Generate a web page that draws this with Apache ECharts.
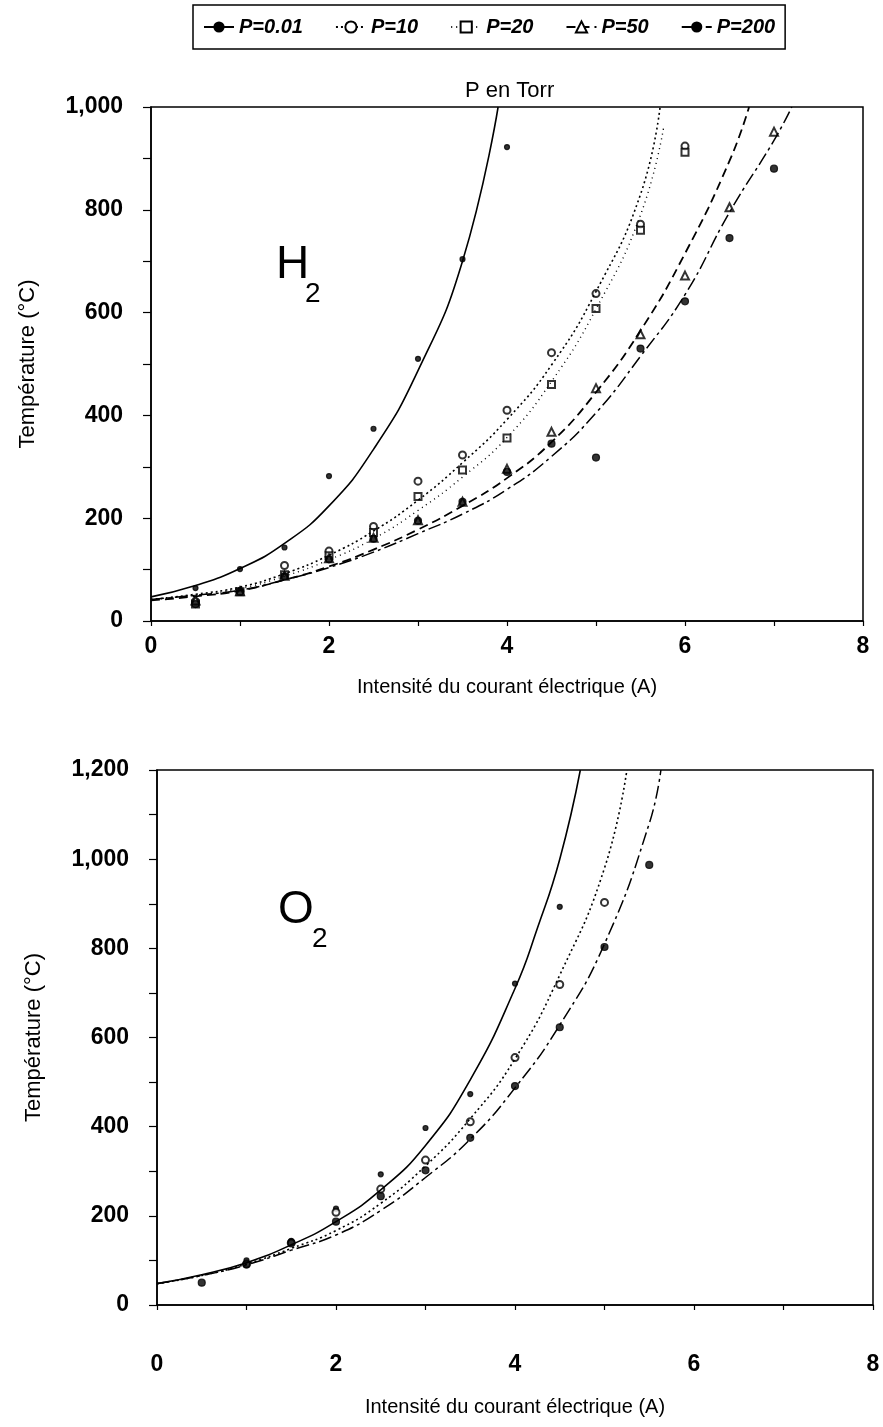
<!DOCTYPE html>
<html>
<head>
<meta charset="utf-8">
<script src="https://cdn.jsdelivr.net/npm/echarts@6/dist/echarts.min.js"></script>
<style>
html, body { margin: 0; padding: 0; background: #fff; }
#main { width: 883px; height: 1427px; }
</style>
</head>
<body>
<div id="main"></div>
<script>
var myChart = echarts.init(document.getElementById('main'));

// pressures (Torr)
var pressures = ['P=0.01', 'P=10', 'P=20', 'P=50', 'P=200'];

// H2 - fitted curves [I (A), T (°C)]
var h2Curve001 = [[0,47],[0.5,69],[1,102],[1.5,151],[2,224],[2.5,334],[3,487],[3.5,700],[3.9,1000]];
var h2Curve10  = [[0,42],[0.5,52],[1,66],[1.5,92],[2,128],[2.5,175],[3,235],[3.5,308],[4,392],[4.5,498],[5,641],[5.5,830],[5.72,1000]];
var h2Curve20  = [[0,42],[0.5,50],[1,63],[1.5,87],[2,119],[2.5,160],[3,215],[3.5,280],[4,357],[4.5,466],[5,607],[5.5,790],[5.76,960]];
var h2Curve50  = [[0,40],[0.5,48],[1,59],[1.5,80],[2,106],[2.5,139],[3,178],[3.5,224],[4,278],[4.5,348],[5,445],[5.5,565],[6,715],[6.5,895],[6.72,1000]];
var h2Curve200 = [[0,42],[0.5,50],[1,60],[1.5,80],[2,104],[2.5,134],[3,170],[3.5,208],[4,256],[4.5,320],[5,405],[5.5,515],[6,635],[6.5,795],[7,935],[7.2,1000]];

// H2 - measured points
var h2Pts001 = [[0.5,64],[1,101],[1.5,143],[2,282],[2.5,374],[3,510],[3.5,704],[4,922]];
var h2Pts10  = [[0.5,38],[1,58],[1.5,108],[2,136],[2.5,184],[3,272],[3.5,323],[4,410],[4.5,522],[5,637],[5.5,772],[6,924]];
var h2Pts20  = [[0.5,33],[1,57],[1.5,90],[2,127],[2.5,172],[3,242],[3.5,294],[4,356],[4.5,460],[5,608],[5.5,760],[6,912]];
var h2Pts50  = [[0.5,40],[1,58],[1.5,88],[2,122],[2.5,162],[3,196],[3.5,232],[4,296],[4.5,368],[5,453],[5.5,558],[6,672],[6.5,805],[7,952]];
var h2Pts200 = [[0.5,33],[1,57],[1.5,87],[2,120],[2.5,160],[3,195],[3.5,232],[4,290],[4.5,345],[5,318],[5.5,530],[6,622],[6.5,745],[7,880]];

// O2 - fitted curves
var o2Curve001 = [[0,48],[0.5,68],[1,95],[1.5,135],[2,187],[2.5,258],[3,358],[3.5,505],[4,710],[4.25,845],[4.5,1000],[4.73,1200]];
var o2Curve10  = [[0,48],[0.5,66],[1,92],[1.5,127],[2,167],[2.5,228],[3,312],[3.5,418],[4,552],[4.5,740],[5,980],[5.25,1200]];
var o2Curve200 = [[0,48],[0.5,66],[1,90],[1.5,123],[2,157],[2.5,212],[3,286],[3.5,372],[4,487],[4.5,628],[5,810],[5.5,1080],[5.63,1200]];

// O2 - measured points
var o2Pts001 = [[1,100],[1.5,144],[2,216],[2.5,293],[3,397],[3.5,473],[4,721],[4.5,893]];
var o2Pts10  = [[1,92],[1.5,139],[2,208],[2.5,260],[3,325],[3.5,411],[4,555],[4.5,719],[5,903]];
var o2Pts200 = [[0.5,50],[1,91],[1.5,140],[2,187],[2.5,244],[3,302],[3.5,375],[4,491],[4.5,623],[5,803],[5.5,987]];

var lineTypes = {
    'P=0.01': { type: 'solid', width: 1.6 },
    'P=10':   { type: [2, 3], width: 1.6 },
    'P=20':   { type: [1, 4], width: 1.4 },
    'P=50':   { type: [9, 5], width: 1.8 },
    'P=200':  { type: [13, 4, 3, 4], width: 1.5 }
};
var symbols = {
    'P=0.01': ['circle', 5],
    'P=10':   ['emptyCircle', 7],
    'P=20':   ['emptyRect', 7],
    'P=50':   ['emptyTriangle', 8],
    'P=200':  ['circle', 7]
};

function addSeries(list, name, curve, pts, idx) {
    list.push({
        name: name, type: 'line', data: curve, smooth: 0.5, showSymbol: false,
        symbol: symbols[name][0], symbolSize: 6,
        xAxisIndex: idx, yAxisIndex: idx,
        lineStyle: { color: '#000', width: lineTypes[name].width, type: lineTypes[name].type },
        itemStyle: { color: '#000' }
    });
    list.push({
        name: name, type: 'scatter', data: pts,
        symbol: symbols[name][0], symbolSize: symbols[name][1],
        xAxisIndex: idx, yAxisIndex: idx,
        itemStyle: { color: '#000', borderColor: '#000', borderWidth: 1.2 }
    });
}

var series = [];
addSeries(series, 'P=0.01', h2Curve001, h2Pts001, 0);
addSeries(series, 'P=10', h2Curve10, h2Pts10, 0);
addSeries(series, 'P=20', h2Curve20, h2Pts20, 0);
addSeries(series, 'P=50', h2Curve50, h2Pts50, 0);
addSeries(series, 'P=200', h2Curve200, h2Pts200, 0);
addSeries(series, 'P=0.01', o2Curve001, o2Pts001, 1);
addSeries(series, 'P=10', o2Curve10, o2Pts10, 1);
addSeries(series, 'P=200', o2Curve200, o2Pts200, 1);

var font = 'Liberation Sans, Arial, Helvetica, sans-serif';

function xAxis(idx, margin, nameGap) {
    return {
        type: 'value', gridIndex: idx, min: 0, max: 8, interval: 1,
        name: 'Intensité du courant électrique (A)', nameLocation: 'middle', nameGap: nameGap,
        nameTextStyle: { fontFamily: font, fontSize: 20, color: '#000' },
        axisLine: { show: true, onZero: false, lineStyle: { color: '#000', width: 1.5 } },
        axisTick: { show: true, length: 5, lineStyle: { color: '#000', width: 1.2 } },
        axisLabel: {
            margin: margin, fontFamily: font, fontSize: 23, fontWeight: 'bold', color: '#000',
            formatter: function (v) { return v % 2 === 0 ? String(v) : ''; }
        },
        splitLine: { show: false }
    };
}
function yAxis(idx, max) {
    return {
        type: 'value', gridIndex: idx, min: 0, max: max, interval: 100,
        name: 'Température (°C)', nameLocation: 'middle', nameGap: 112,
        nameTextStyle: { fontFamily: font, fontSize: 22, color: '#000' },
        axisLine: { show: true, onZero: false, lineStyle: { color: '#000', width: 1.5 } },
        axisTick: { show: true, length: 8, lineStyle: { color: '#000', width: 1.2 } },
        axisLabel: {
            margin: 28, fontFamily: font, fontSize: 23, fontWeight: 'bold', color: '#000',
            formatter: function (v) { return v % 200 === 0 ? v.toLocaleString('en-US') : ''; }
        },
        splitLine: { show: false }
    };
}

option = {
    backgroundColor: '#fff',
    animation: false,
    title: {
        text: 'P en Torr', left: 460, top: 75,
        textStyle: { fontFamily: font, fontSize: 22, fontWeight: 'normal', color: '#000' }
    },
    legend: {
        data: pressures,
        left: 193, top: 5,
        padding: [12, 10],
        itemWidth: 30, itemHeight: 14, itemGap: 32,
        borderColor: '#000', borderWidth: 1.5,
        textStyle: { fontFamily: font, fontSize: 20, fontWeight: 'bold', fontStyle: 'italic', color: '#000' }
    },
    grid: [
        { left: 151, top: 107, width: 712, height: 514, show: true, borderColor: '#000', borderWidth: 1.5 },
        { left: 157, top: 770, width: 716, height: 535, show: true, borderColor: '#000', borderWidth: 1.5 }
    ],
    xAxis: [xAxis(0, 14, 56), xAxis(1, 48, 92)],
    yAxis: [yAxis(0, 1000), yAxis(1, 1200)],
    graphic: [
        { type: 'text', left: 276, top: 242, style: { text: 'H', font: '46px ' + font, fill: '#000' } },
        { type: 'text', left: 305, top: 280, style: { text: '2', font: '28px ' + font, fill: '#000' } },
        { type: 'text', left: 278, top: 887, style: { text: 'O', font: '46px ' + font, fill: '#000' } },
        { type: 'text', left: 312, top: 925, style: { text: '2', font: '28px ' + font, fill: '#000' } }
    ],
    series: series
};
myChart.setOption(option);
</script>
</body>
</html>
